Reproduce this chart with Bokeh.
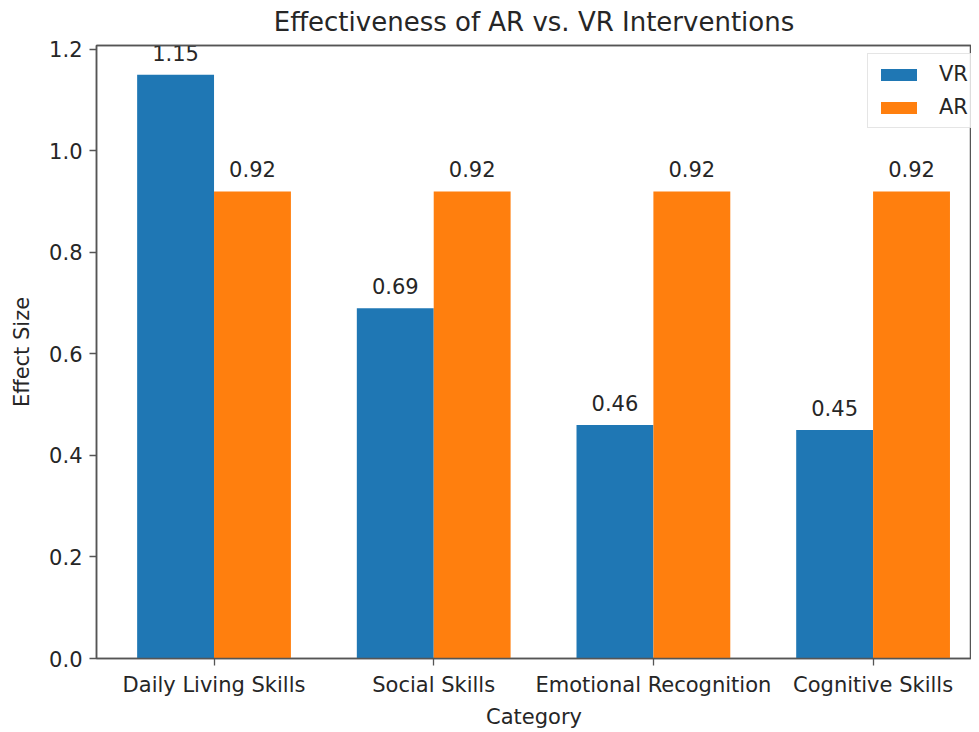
from bokeh.plotting import figure
from bokeh.models import (ColumnDataSource, Range1d, FixedTicker, Legend, LinearAxis,
                          LegendItem, NumeralTickFormatter)
from bokeh.transform import dodge
from bokeh.core.properties import value
from bokeh.embed import file_html
from bokeh.resources import INLINE

categories = ["Daily Living Skills", "Social Skills", "Emotional Recognition", "Cognitive Skills"]
vr_values = [1.15, 0.69, 0.46, 0.45]
ar_values = [0.92, 0.92, 0.92, 0.92]
y_ticks = [0.0, 0.2, 0.4, 0.6, 0.8, 1.0, 1.2]
title_text = "Effectiveness of AR vs. VR Interventions"

FONT = "DejaVu Sans"
TXT = "#262626"
AX = "#555555"
BLUE = "#1f77b4"
ORANGE = "#ff7f0e"
W = 0.35
Y_MAX = 1.2075

xs = list(range(len(categories)))
src = ColumnDataSource(dict(
    x=xs, vr=vr_values, ar=ar_values,
    vr_lab=[f"{v:.2f}" for v in vr_values],
    ar_lab=[f"{v:.2f}" for v in ar_values],
))

p = figure(frame_width=875, frame_height=613, output_backend="svg", toolbar_location=None,
           x_range=Range1d(-0.535, 3.448), y_range=Range1d(0, Y_MAX),
           min_border_left=96, min_border_right=0, min_border_top=45, min_border_bottom=66)
p.title = None

r_vr = p.vbar(x=dodge("x", -W / 2), top="vr", width=W, source=src, color=BLUE, line_color=None)
r_ar = p.vbar(x=dodge("x", W / 2), top="ar", width=W, source=src, color=ORANGE, line_color=None)

for col, lab, off in (("vr", "vr_lab", -W / 2), ("ar", "ar_lab", W / 2)):
    p.text(x=dodge("x", off), y=col, text=lab, source=src, y_offset=-14,
           text_align="center", text_baseline="bottom",
           text_font=value(FONT), text_font_size="21px", text_color=TXT)

p.grid.visible = False
p.outline_line_color = AX
p.outline_line_width = 1.5
p.background_fill_color = "white"
p.border_fill_color = "white"

xa = p.xaxis[0]
xa.ticker = FixedTicker(ticks=xs)
xa.major_label_overrides = {i: c for i, c in enumerate(categories)}
xa.axis_label = "Category"
ya = p.yaxis[0]
ya.ticker = FixedTicker(ticks=y_ticks)
ya.formatter = NumeralTickFormatter(format="0.0")
ya.axis_label = "Effect Size"

# top axis carrying the chart title
top = LinearAxis(ticker=FixedTicker(ticks=[]), major_tick_out=0, major_tick_in=0,
                 minor_tick_out=0, minor_tick_in=0, major_label_standoff=0,
                 axis_line_color=AX, axis_line_width=1.5,
                 axis_label=title_text, axis_label_standoff=9,
                 axis_label_text_font=FONT, axis_label_text_font_size="26px",
                 axis_label_text_font_style="normal", axis_label_text_color=TXT)
p.add_layout(top, "above")

for ax in (xa, ya):
    ax.minor_tick_line_color = None
    ax.major_tick_in = 0
    ax.major_tick_out = 7
    ax.major_tick_line_color = AX
    ax.major_tick_line_width = 1.3
    ax.axis_line_color = AX
    ax.axis_line_width = 1.5
    ax.major_label_text_font = FONT
    ax.major_label_text_font_size = "21px"
    ax.major_label_text_color = TXT
    ax.axis_label_text_font = FONT
    ax.axis_label_text_font_size = "21px"
    ax.axis_label_text_font_style = "normal"
    ax.axis_label_text_color = TXT
xa.major_label_standoff = 7
xa.axis_label_standoff = 5
ya.major_label_standoff = 7
ya.axis_label_standoff = 12

legend = Legend(items=[LegendItem(label="VR", renderers=[r_vr]),
                       LegendItem(label="AR", renderers=[r_ar])],
                location=(771, 530), label_text_font=FONT, label_text_font_size="21px",
                label_text_color=TXT, border_line_color="#cccccc", border_line_width=1,
                background_fill_alpha=0.8, glyph_width=45, glyph_height=15,
                label_standoff=18, spacing=9, padding=8, margin=0)
p.add_layout(legend)

open("out.html", "w").write(file_html(p, INLINE))
